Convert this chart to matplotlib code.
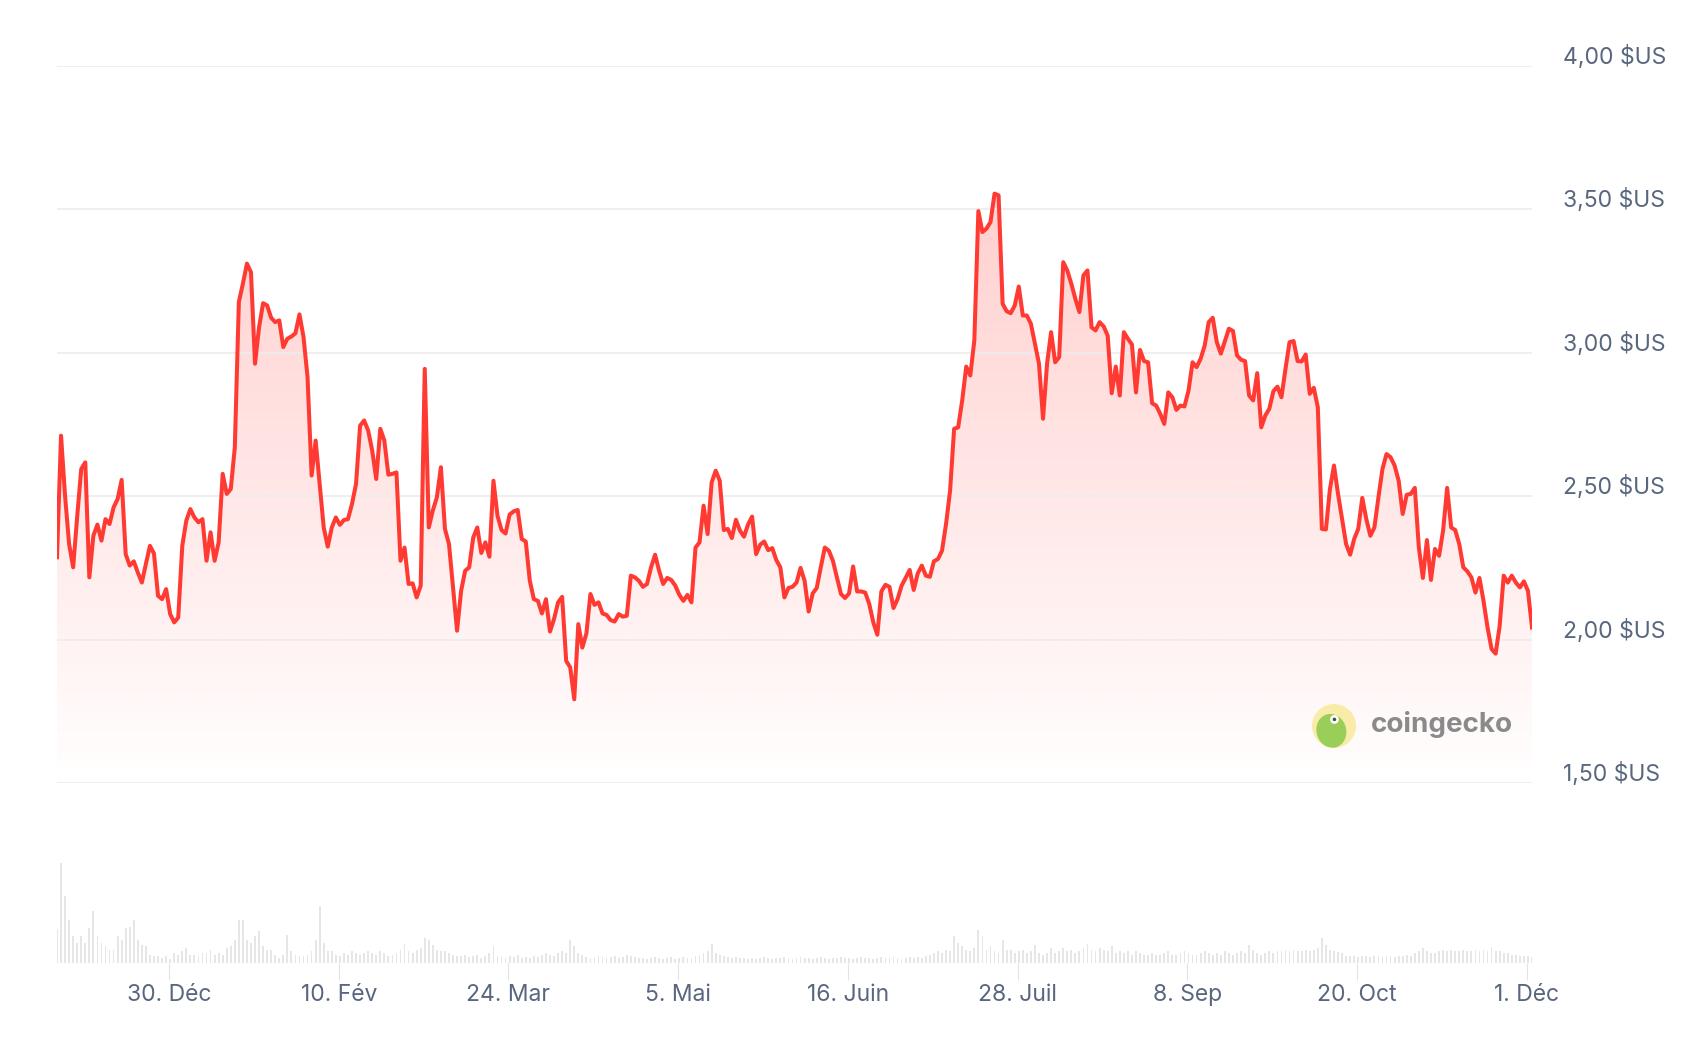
import matplotlib
matplotlib.use('Agg')
import matplotlib.pyplot as plt
import matplotlib.dates as mdates
from matplotlib.patches import Circle, Ellipse
from matplotlib.transforms import ScaledTranslation
import numpy as np
import pandas as pd

plt.rcParams['font.family'] = ['Inter', 'DejaVu Sans']

# daily closes, one per day from START_DATE
START_DATE = '2023-12-03 07:00'
PRICES = [
    2.287, 2.711, 2.50, 2.333, 2.252, 2.43, 2.595, 2.618, 2.217, 2.362,
    2.401, 2.345, 2.42, 2.403, 2.461, 2.49, 2.557, 2.298, 2.258, 2.273,
    2.234, 2.199, 2.264, 2.327, 2.30, 2.153, 2.141, 2.176, 2.089, 2.06,
    2.077, 2.327, 2.415, 2.455, 2.426, 2.409, 2.42, 2.275, 2.374, 2.275,
    2.339, 2.578, 2.508, 2.525, 2.67, 3.177, 3.241, 3.311, 3.281, 2.962,
    3.089, 3.173, 3.165, 3.122, 3.107, 3.113, 3.02, 3.049, 3.057, 3.068,
    3.134, 3.055, 2.915, 2.572, 2.694, 2.543, 2.391, 2.324, 2.391, 2.426,
    2.40, 2.417, 2.42,
    2.473, 2.543, 2.746, 2.764, 2.729, 2.659, 2.56, 2.735, 2.694, 2.575,
    2.578, 2.583, 2.275, 2.321, 2.194, 2.196, 2.147, 2.188, 2.944, 2.391,
    2.45, 2.496, 2.601, 2.386, 2.333, 2.182, 2.031, 2.17, 2.24, 2.252,
    2.356, 2.391, 2.302, 2.339, 2.289, 2.554, 2.432, 2.382, 2.37, 2.436,
    2.447, 2.452, 2.351, 2.342, 2.205, 2.141, 2.135, 2.091, 2.141, 2.028,
    2.072, 2.13, 2.149, 1.926, 1.903, 1.792, 2.054, 1.972, 2.021, 2.159,
    2.121, 2.13, 2.091, 2.086, 2.068, 2.063, 2.089, 2.08, 2.083, 2.223,
    2.217, 2.205,
    2.184, 2.194, 2.252, 2.296, 2.24, 2.194, 2.215, 2.208, 2.188, 2.156,
    2.135, 2.156, 2.13, 2.321, 2.339, 2.467, 2.368, 2.548, 2.589, 2.554,
    2.382, 2.386, 2.354, 2.418, 2.38, 2.359, 2.401, 2.429, 2.298, 2.331,
    2.342, 2.312, 2.319, 2.277, 2.252, 2.147, 2.18, 2.184, 2.199, 2.25,
    2.205, 2.098, 2.161, 2.18, 2.252, 2.321, 2.31, 2.275, 2.217, 2.159,
    2.145, 2.161, 2.255, 2.168, 2.168, 2.164, 2.124, 2.06, 2.017, 2.168,
    2.191, 2.184, 2.11, 2.141, 2.188, 2.215, 2.243, 2.173, 2.231, 2.258,
    2.223, 2.219,
    2.273, 2.281, 2.31, 2.403, 2.519, 2.735, 2.74, 2.834, 2.952, 2.921,
    3.043, 3.494, 3.421, 3.433, 3.456, 3.555, 3.549, 3.171, 3.145, 3.138,
    3.165, 3.231, 3.13, 3.13, 3.101, 3.031, 2.962, 2.77, 2.962, 3.072,
    2.967, 2.985, 3.316, 3.287, 3.241, 3.188, 3.142, 3.27, 3.287, 3.089,
    3.078, 3.107, 3.092, 3.06, 2.859, 2.952, 2.851, 3.072, 3.049, 3.029,
    2.862, 3.01, 2.971, 2.967, 2.824, 2.816, 2.787, 2.752, 2.862, 2.845,
    2.801, 2.816, 2.813, 2.868, 2.967, 2.95, 2.979, 3.025, 3.107, 3.122,
    3.037, 2.997,
    3.041, 3.084, 3.076, 2.991, 2.976, 2.971, 2.851, 2.834, 2.929, 2.74,
    2.781, 2.805, 2.866, 2.882, 2.845, 2.944, 3.037, 3.041, 2.971, 2.97,
    2.994, 2.857, 2.878, 2.81, 2.386, 2.384, 2.525, 2.607, 2.508, 2.42,
    2.333, 2.296, 2.351, 2.386, 2.494, 2.42, 2.362, 2.391, 2.496, 2.595,
    2.647, 2.636, 2.607, 2.554, 2.438, 2.505, 2.508, 2.529, 2.321, 2.215,
    2.347, 2.208, 2.316, 2.292, 2.38, 2.529, 2.391, 2.382, 2.333, 2.252,
    2.238, 2.217, 2.164, 2.215, 2.135, 2.042, 1.967, 1.951, 2.048, 2.223,
    2.199, 2.223, 2.199, 2.182, 2.203, 2.17, 2.042,
]

# traded volume, arbitrary units (no scale shown on the chart)
VOLUMES = [
    34, 100, 67, 43, 27, 20, 27, 20, 35, 52, 27, 20, 17, 13, 13, 27, 23, 35, 36, 43,
    23, 18, 17, 8, 7, 7, 5, 7, 4, 10, 8, 12, 15, 8, 8, 7, 10, 10, 13, 8,
    10, 8, 15, 17, 23, 43, 43, 23, 20, 27, 32, 17, 13, 13, 8, 5, 8, 28, 12, 8,
    7, 7, 8, 12, 23, 57, 20, 12, 12,
    8, 7, 10, 8, 12, 10, 8, 10, 12, 10, 8, 12, 10, 7, 8, 10, 13,
    19, 12, 10, 13, 15, 25, 23, 18, 13, 12, 12, 10, 8, 7,
    7, 8, 6, 7, 8, 5, 7, 10, 17, 7, 6, 5, 7, 6, 8, 5,
    6, 5, 7, 6, 8, 10, 8, 7, 10, 12, 10, 23, 17, 10, 8,
    6, 5, 5, 7, 6, 5, 6, 7, 5, 6, 8, 7, 6, 5, 5, 4, 5, 6, 5, 4,
    5, 6, 4, 5, 6, 5, 5, 7, 8, 10, 12, 19, 10, 8, 7, 6, 5, 6, 5, 5,
    4, 5, 4, 5, 6, 5, 4, 5, 5, 6, 5, 4, 5, 6, 5, 5, 4, 5, 6, 5, 4, 5, 5, 6, 5,
    5, 4, 5, 6, 5, 5, 4, 5, 6, 5, 5, 6, 5, 4, 5, 6, 5, 6, 5, 7, 8,
    10, 12, 10, 13, 12,
    27, 20, 17, 13, 12, 15, 33, 27, 13,
    17, 12, 10, 23, 13, 13, 10, 12, 13, 10,
    12, 18, 10, 8, 10, 15, 10, 12, 15, 12,
    13, 10, 12, 15, 19, 13, 12, 15, 13, 12,
    17, 10, 12, 10, 12, 8, 12, 10, 8, 8,
    10, 8, 8, 10, 12, 8, 8, 10, 12, 10,
    8, 8, 10, 12, 10, 8, 10, 8, 12, 10,
    8, 10, 12, 10, 18, 13, 10, 8, 10, 12,
    10, 12, 12, 13, 12, 13, 12, 12, 13, 12, 13, 15,
    25, 18, 13, 12, 11, 10, 7, 7,
    7, 6, 7, 7, 6, 7, 7, 6, 7, 7, 6, 7, 7, 8, 7, 10, 12,
    15, 12, 10, 10, 12, 13, 12, 13, 12, 12, 13, 12, 12,
    13, 12, 13, 12, 16, 12, 12, 10, 10, 8, 8, 7, 7, 7, 6,
]

PRICE_TICKS = [1.5, 2.0, 2.5, 3.0, 3.5, 4.0]
PRICE_LABELS = ['1,50 $US', '2,00 $US', '2,50 $US', '3,00 $US', '3,50 $US', '4,00 $US']
# ticks fall on Sundays; the source shows them one day early (timezone)
XTICK_DATES = ['2023-12-31', '2024-02-11', '2024-03-24', '2024-05-05', '2024-06-16',
               '2024-07-28', '2024-09-08', '2024-10-20', '2024-12-01']
XTICK_LABELS = ['30. Déc', '10. Fév', '24. Mar', '5. Mai', '16. Juin',
                '28. Juil', '8. Sep', '20. Oct', '1. Déc']

LINE_COLOR = '#ff3a33'
TEXT_COLOR = '#58667e'
GRID_COLOR = '#ececec'
FILL_FLOOR = 1.555


def main():
    dates = pd.date_range(START_DATE, periods=len(PRICES), freq='D')
    W, H = 1704, 1038
    fig = plt.figure(figsize=(W / 100, H / 100), dpi=100)

    x0, x1 = 57, 1532
    ax = fig.add_axes([x0 / W, 1 - 783 / H, (x1 - x0) / W, (783 - 66) / H])
    vax = fig.add_axes([x0 / W, 1 - 963 / H, (x1 - x0) / W, 103 / H], sharex=ax)

    # price line with a fading red area underneath
    ax.plot(dates, PRICES, color=LINE_COLOR, lw=2.9, zorder=4, solid_joinstyle='round')
    area = ax.fill_between(dates, PRICES, FILL_FLOOR, color='none', lw=0)
    top = max(PRICES)
    grad = np.zeros((256, 1, 4))
    grad[..., 0] = 1.0
    grad[..., 1] = 58 / 255
    grad[..., 2] = 51 / 255
    grad[..., 3] = np.linspace(0.24, 0.01, 256)[:, None]
    xn = mdates.date2num(dates)
    im = ax.imshow(grad, extent=[xn[0], xn[-1], FILL_FLOOR, top], aspect='auto',
                   origin='upper', zorder=1, interpolation='bilinear')
    im.set_clip_path(area.get_paths()[0], transform=ax.transData)

    ax.set_xlim(dates[0], dates[-1])
    ax.set_ylim(1.5, 4.0)
    ax.set_yticks(PRICE_TICKS)
    ax.grid(axis='y', color=GRID_COLOR, lw=1.2)
    ax.set_axisbelow(False)
    ax.tick_params(axis='both', length=0, labelleft=False, labelbottom=False)
    for s in ax.spines.values():
        s.set_visible(False)

    label_shift = ScaledTranslation(31 / 100, 9 / 100, fig.dpi_scale_trans)
    for v, lab in zip(PRICE_TICKS, PRICE_LABELS):
        ax.text(1.0, v, lab, transform=ax.get_yaxis_transform() + label_shift,
                ha='left', va='center', fontsize=16.5, color=TEXT_COLOR)

    # volume bars
    vax.bar(dates, VOLUMES, width=0.45, color='#e6e6e6', align='center')
    vax.set_ylim(0, 103)
    vax.set_yticks([])
    vax.set_xticks(pd.to_datetime(XTICK_DATES))
    vax.set_xticklabels(XTICK_LABELS)
    vax.tick_params(axis='x', length=12, width=0.8, color='#e2e2e2',
                    labelcolor=TEXT_COLOR, labelsize=16.5, pad=3)
    for s in vax.spines.values():
        s.set_visible(False)
    vax.set_xlim(dates[0], dates[-1])

    # coingecko watermark
    lax = fig.add_axes([1312 / W, 1 - 748 / H, 44 / W, 44 / H])
    lax.set_xlim(-1, 1)
    lax.set_ylim(-1, 1)
    lax.set_aspect('equal')
    lax.axis('off')
    ring = Circle((0, 0), 1.0, fc='#f7ea9a', ec='none', alpha=0.85)
    lax.add_patch(ring)
    head = Ellipse((-0.12, -0.22), 1.35, 1.55, angle=15, fc='#8fcb4f', ec='none', alpha=0.9)
    lax.add_patch(head)
    head.set_clip_path(ring)
    lax.add_patch(Circle((0.02, 0.3), 0.2, fc='white', ec='none'))
    lax.add_patch(Circle((0.02, 0.3), 0.08, fc='#4a4a4a', ec='none'))
    fig.text(1371 / W, 1 - 725 / H, 'coingecko', fontsize=20, fontweight='bold',
             color='#8a8a8a', ha='left', va='center')

    fig.savefig('out.png', dpi=100)


if __name__ == '__main__':
    main()
